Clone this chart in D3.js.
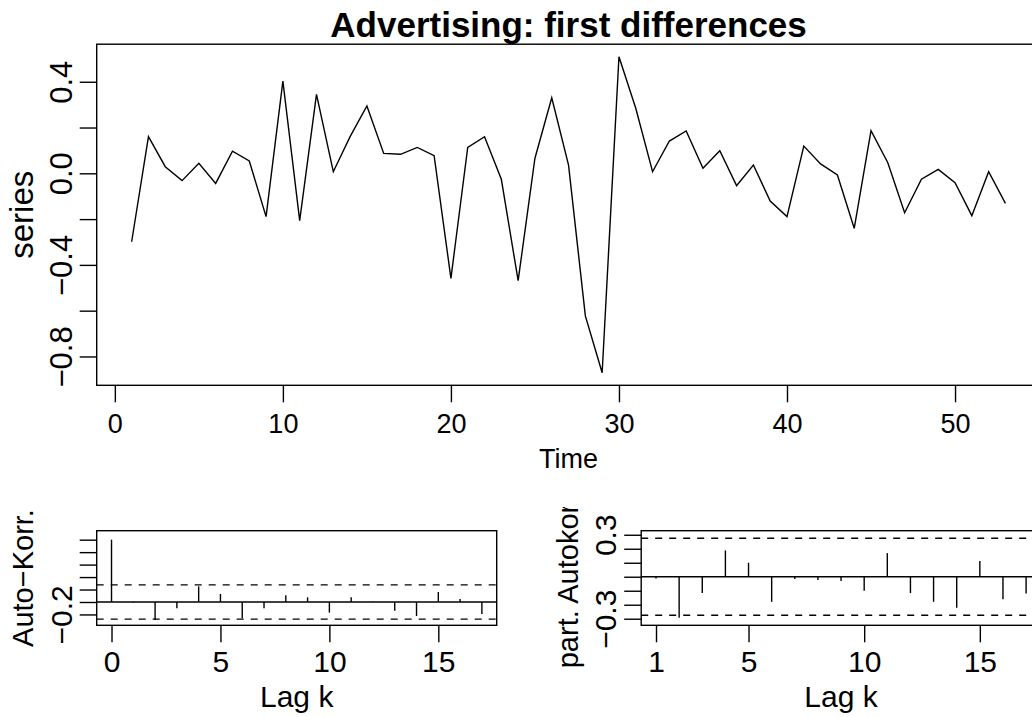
<!DOCTYPE html>
<html>
<head>
<meta charset="utf-8">
<script src="https://cdn.jsdelivr.net/npm/d3@7"></script>
<style>
  html, body { margin: 0; padding: 0; background: #fff; }
  svg { display: block; font-family: "Liberation Sans", Arial, Helvetica, sans-serif; }
</style>
</head>
<body>
<svg id="chart" width="1032" height="717"></svg>
<script>
// First differences of the advertising series, t = 1..53
const series = [
  -0.299, 0.160, 0.029, -0.032, 0.044, -0.044, 0.097, 0.054, -0.189, 0.403,
  -0.207, 0.345, 0.007, 0.160, 0.294, 0.087, 0.083, 0.113, 0.077, -0.459,
  0.113, 0.160, -0.026, -0.469, 0.066, 0.330, 0.036, -0.623, -0.871, 0.509,
  0.284, 0.007, 0.141, 0.185, 0.022, 0.099, -0.054, 0.036, -0.121, -0.189,
  0.119, 0.041, -0.007, -0.240, 0.186, 0.046, -0.172, -0.026, 0.017, -0.041,
  -0.185, 0.007, -0.131
];
const timeTicks = [0, 10, 20, 30, 40, 50];
const seriesTicks = [-0.8, -0.6, -0.4, -0.2, 0, 0.2, 0.4];
const seriesTickLabels = [-0.8, -0.4, 0, 0.4];

// Autocorrelations, lags 0..17
const acfLags = [0, 1, 2, 3, 4, 5, 6, 7, 8, 9, 10, 11, 12, 13, 14, 15, 16, 17];
const acfValues = [
  1.0, -0.010, -0.289, -0.102, 0.251, 0.128, -0.262, -0.102, 0.107, 0.075,
  -0.171, 0.075, 0.005, -0.139, -0.225, 0.160, 0.048, -0.193
];
const acfXTicks = [0, 5, 10, 15];
const acfYTicks = [-0.2, 0, 0.2, 0.4, 0.6, 0.8, 1.0];
const acfYTickLabels = [-0.2];

// Partial autocorrelations, lags 1..17
const pacfLags = [1, 2, 3, 4, 5, 6, 7, 8, 9, 10, 11, 12, 13, 14, 15, 16, 17];
const pacfValues = [
  -0.012, -0.293, -0.117, 0.188, 0.100, -0.179, -0.017, -0.024, -0.031, -0.100,
  0.169, -0.117, -0.179, -0.221, 0.112, -0.160, -0.119
];
const pacfXTicks = [1, 5, 10, 15];
const pacfYTicks = [-0.3, -0.2, -0.1, 0, 0.1, 0.2, 0.3];
const pacfYTickLabels = [-0.3, 0.3];

// Approximate 95% bounds for white noise, 2/sqrt(n), n = 53
const confBound = 0.2747;

const svg = d3.select("#chart");
const LW = 1.4;         // line width
const TICK = 17;        // tick length
const MINUS = "\u2212";
const FONT = "Liberation Sans, Arial, sans-serif";

const fmt1 = v => (v < 0 ? MINUS : "") + Math.abs(v).toFixed(1);

// One framed panel with R-style axes
function panel(opts) {
  const { x, y, xTicks, yTicks, yLabels, yFmt, xLabel, yLabel, clipTop, fs } = opts;
  const [x0, x1] = x.range();
  const [yb, yt] = y.range();
  const g = svg.append("g");

  // frame
  g.append("rect")
    .attr("x", x0).attr("y", yt)
    .attr("width", x1 - x0).attr("height", yb - yt)
    .attr("fill", "none").attr("stroke", "#000").attr("stroke-width", LW);

  // x axis
  const xa = g.append("g")
    .attr("transform", `translate(0,${yb})`)
    .call(d3.axisBottom(x).tickValues(xTicks).tickSize(TICK).tickFormat(d3.format("d")));
  xa.select(".domain").remove();
  xa.selectAll(".tick line").attr("stroke", "#000").attr("stroke-width", LW);
  xa.selectAll(".tick text")
    .attr("y", fs.xTickY).attr("dy", 0)
    .attr("font-size", fs.xTick).attr("fill", "#000")
    .attr("font-family", FONT);

  // y axis with labels turned parallel to the axis
  const ya = g.append("g")
    .attr("transform", `translate(${x0},0)`)
    .call(d3.axisLeft(y).tickValues(yTicks).tickSize(TICK)
      .tickFormat(v => yLabels.some(l => Math.abs(l - v) < 1e-9) ? yFmt(v) : ""));
  ya.select(".domain").remove();
  ya.selectAll(".tick line").attr("stroke", "#000").attr("stroke-width", LW);
  ya.selectAll(".tick text")
    .attr("transform", "rotate(-90)")
    .attr("x", 0).attr("y", -25).attr("dy", 0)
    .attr("text-anchor", "middle")
    .attr("font-size", fs.yTick).attr("fill", "#000")
    .attr("font-family", FONT);

  // axis titles
  g.append("text")
    .attr("x", (x0 + x1) / 2).attr("y", yb + fs.xLabY)
    .attr("text-anchor", "middle").attr("font-size", fs.xLab)
    .text(xLabel);

  let yl = g;
  if (clipTop !== undefined) {
    const id = "clip" + Math.round(x0);
    svg.append("clipPath").attr("id", id)
      .append("rect").attr("x", x0 - 120).attr("y", clipTop)
      .attr("width", 120).attr("height", 717 - clipTop);
    yl = g.append("g").attr("clip-path", `url(#${id})`);
  }
  yl.append("text")
    .attr("transform", `translate(${x0 - fs.yLabX},${(yb + yt) / 2}) rotate(-90)`)
    .attr("text-anchor", "middle").attr("font-size", fs.yLab)
    .text(yLabel);
  return g;
}

// ---------- time series panel ----------
const xTop = d3.scaleLinear().domain([-1.08, 55.08]).range([96.7, 1040.4]);
const yTop = d3.scaleLinear().domain([-0.926, 0.564]).range([385.3, 44.2]);
const gTop = panel({
  x: xTop, y: yTop, xTicks: timeTicks, yTicks: seriesTicks,
  yLabels: seriesTickLabels, yFmt: fmt1, xLabel: "Time", yLabel: "series",
  fs: { xTick: 27, xTickY: 47.5, xLab: 27, xLabY: 83, yTick: 31, yLab: 33, yLabX: 63.7 }
});
gTop.append("path")
  .datum(series)
  .attr("fill", "none").attr("stroke", "#000").attr("stroke-width", LW)
  .attr("stroke-linejoin", "miter")
  .attr("d", d3.line().x((d, i) => xTop(i + 1)).y(d => yTop(d)));

svg.append("text")
  .attr("x", (96.7 + 1040.4) / 2).attr("y", 37)
  .attr("text-anchor", "middle")
  .attr("font-size", 35).attr("font-weight", "bold")
  .text("Advertising: first differences");

// ---------- correlogram panels ----------
function stems(g, x, y, lags, vals) {
  const [x0, x1] = x.range();
  g.append("line")
    .attr("x1", x0).attr("x2", x1).attr("y1", y(0)).attr("y2", y(0))
    .attr("stroke", "#000").attr("stroke-width", LW);
  [confBound, -confBound].forEach(c => {
    g.append("line")
      .attr("x1", x0).attr("x2", x1).attr("y1", y(c)).attr("y2", y(c))
      .attr("stroke", "#000").attr("stroke-width", LW)
      .attr("stroke-dasharray", "7,7");
  });
  g.selectAll("line.stem")
    .data(lags.map((k, i) => ({ k, v: vals[i] })))
    .join("line").attr("class", "stem")
    .attr("x1", d => x(d.k)).attr("x2", d => x(d.k))
    .attr("y1", y(0)).attr("y2", d => y(d.v))
    .attr("stroke", "#000").attr("stroke-width", LW);
}

const bottomFs = { xTick: 30, xTickY: 46.5, xLab: 30, xLabY: 81.5, yTick: 30, yLab: 29, yLabX: 63.7 };

const xAcf = d3.scaleLinear().domain([-0.68, 17.68]).range([96.7, 496.7]);
const yAcf = d3.scaleLinear().domain([-0.374, 1.144]).range([625.3, 530.7]);
const gAcf = panel({
  x: xAcf, y: yAcf, xTicks: acfXTicks, yTicks: acfYTicks,
  yLabels: acfYTickLabels, yFmt: fmt1, xLabel: "Lag k", yLabel: "Auto" + MINUS + "Korr.",
  clipTop: 507, fs: bottomFs
});
stems(gAcf, xAcf, yAcf, acfLags, acfValues);

const xPacf = d3.scaleLinear().domain([0.36, 17.64]).range([641.2, 1040.9]);
const yPacf = d3.scaleLinear().domain([-0.347, 0.329]).range([625.3, 530.7]);
const gPacf = panel({
  x: xPacf, y: yPacf, xTicks: pacfXTicks, yTicks: pacfYTicks,
  yLabels: pacfYTickLabels, yFmt: fmt1, xLabel: "Lag k", yLabel: "part. Autokorr.",
  clipTop: 507, fs: bottomFs
});
stems(gPacf, xPacf, yPacf, pacfLags, pacfValues);
</script>
</body>
</html>
